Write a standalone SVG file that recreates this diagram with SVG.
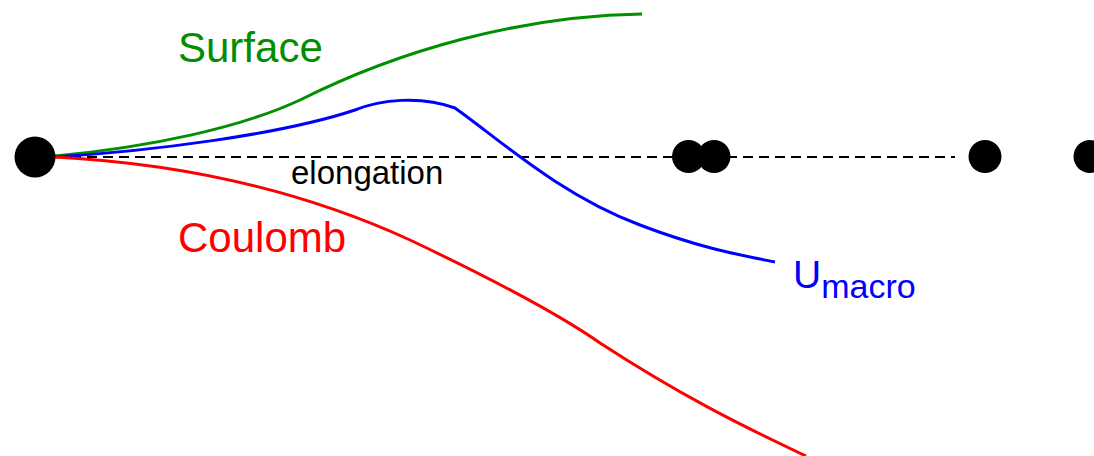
<svg xmlns="http://www.w3.org/2000/svg" width="1094" height="456" viewBox="0 0 1094 456">
  <style>
    .dot { fill: #000; }
    .curve { fill: none; stroke-width: 3; stroke-linejoin: round; stroke-linecap: butt; }
    .lbl { font-family: "Liberation Sans", Arial, Helvetica, sans-serif; }
  </style>
  <rect width="1094" height="456" fill="#fff"/>
  <g id="connectors">
    <line id="elongation-axis" x1="55" y1="157" x2="955" y2="157" stroke="#000" stroke-width="2" stroke-dasharray="10 6"/>
    <path id="surface-curve" class="curve" stroke="#008f00" d="M55,156 C150,147 240,128 300,100 C400,50 520,16 642,14"/>
    <path id="umacro-curve" class="curve" stroke="#0000ff" d="M55,157 C150,151 280,135 355,110 C380,100 420,95 455,108 C500,140 560,195 640,225 C700,248 740,255 775,262"/>
    <path id="coulomb-curve" class="curve" stroke="#ff0000" d="M55,157 C170,163 290,185 410,240 C490,278 560,315 600,343 C680,395 740,425 806,456"/>
  </g>
  <g id="node-origin"><circle class="dot" cx="35" cy="157" r="20.5"/></g>
  <g id="node-pair-a"><circle class="dot" cx="688.5" cy="156.5" r="16.5"/></g>
  <g id="node-pair-b"><circle class="dot" cx="714" cy="156.5" r="16.5"/></g>
  <g id="node-split"><circle class="dot" cx="985" cy="156.5" r="16.5"/></g>
  <g id="node-far"><circle class="dot" cx="1090" cy="156.5" r="16.5"/></g>
  <g id="labels">
    <text class="lbl" x="178" y="62" font-size="42" fill="#008f00">Surface</text>
    <text class="lbl" x="178" y="252" font-size="42" fill="#ff0000">Coulomb</text>
    <text class="lbl" x="291" y="184" font-size="33" fill="#000">elongation</text>
    <text class="lbl" x="793" y="288" font-size="39" fill="#0000ff">U<tspan font-size="34" dy="10">macro</tspan></text>
  </g>
</svg>
